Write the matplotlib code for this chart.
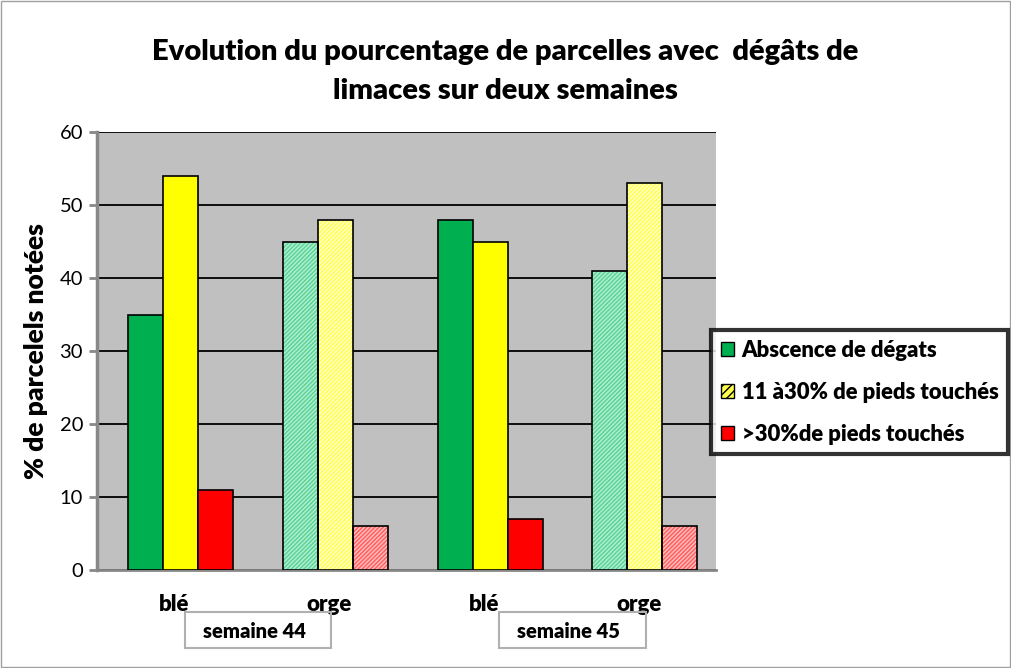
import matplotlib
matplotlib.use("Agg")
import matplotlib.pyplot as plt
from matplotlib.patches import Rectangle, Patch
import numpy as np

plt.rcParams['font.family'] = ['Lato', 'DejaVu Sans']
BW = "heavy"

categories = ["blé", "orge", "blé", "orge"]
weeks = ["semaine 44", "semaine 45"]
series_names = ["Abscence de dégats", "11 à30% de pieds touchés", ">30%de pieds touchés"]
absence = [35, 45, 48, 41]
moyen = [54, 48, 45, 53]
fort = [11, 6, 7, 6]
hatched = [False, True, False, True]

solid_colors = ["#00b050", "#ffff00", "#ff0000"]
hatch_face = ["#5fd39a", "#ffff50", "#ff6060"]
hatch_line = ["#b0f0d0", "#ffffd0", "#ffc0c0"]

fig = plt.figure(figsize=(10.11, 6.68), dpi=100)
fig.patches.append(Rectangle((0.001, 0.001), 0.998, 0.997, transform=fig.transFigure,
                             fill=False, edgecolor="#a0a0a0", linewidth=1))
ax = fig.add_axes([97/1011, 1-570/668, 619/1011, 438/668])
ax.set_facecolor("#c0c0c0")

x = np.arange(len(categories))
w = 0.226
off = 0.04
for si, vals in enumerate([absence, moyen, fort]):
    pos = x + off + (si - 1) * w
    for xi, (p, v) in enumerate(zip(pos, vals)):
        if hatched[xi]:
            ax.bar(p, v, w, color=hatch_face[si], edgecolor=hatch_line[si],
                   hatch="////////", linewidth=0, zorder=3)
            ax.bar(p, v, w, fill=False, edgecolor="black", linewidth=1.2, zorder=4)
        else:
            ax.bar(p, v, w, color=solid_colors[si], edgecolor="black", linewidth=1.2, zorder=3)

ax.set_xlim(-0.5, 3.5)
ax.set_ylim(0, 60)
ax.set_yticks(range(0, 61, 10))
ax.yaxis.grid(True, color="black", linewidth=1.3, zorder=1)
ax.set_axisbelow(True)
ax.set_xticks(x)
ax.set_xticklabels(categories, fontsize=16, fontweight=BW)
ax.tick_params(axis="x", length=0, pad=17)
ax.tick_params(axis="y", length=6, width=2, color="#888888", labelsize=14.5, pad=4, direction="out")
for s in ["top", "right"]:
    ax.spines[s].set_visible(False)
ax.spines["left"].set_color("#888888")
ax.spines["left"].set_linewidth(2.5)
ax.spines["bottom"].set_color("#888888")
ax.spines["bottom"].set_linewidth(2)
ax.set_ylabel("% de parcelels notées", fontsize=19, fontweight=BW, labelpad=8)

fig.text(505/1011, 1-52/668, "Evolution du pourcentage de parcelles avec  dégâts de",
         ha="center", va="center", fontsize=21, fontweight=BW)
fig.text(505/1011, 1-91/668, "limaces sur deux semaines",
         ha="center", va="center", fontsize=21, fontweight=BW)

# week boxes
for wk, (x0, x1) in zip(weeks, [(185, 331), (499, 646)]):
    fig.patches.append(Rectangle((x0/1011, 1-648/668), (x1-x0)/1011, 36/668,
                                 transform=fig.transFigure, fill=False,
                                 edgecolor="#b0b0b0", linewidth=1.5))
    fig.text((x0+x1)/2/1011 - 4/1011, 1-631/668, wk, ha="center", va="center",
             fontsize=14.5, fontweight=BW)

handles = [Patch(facecolor=solid_colors[0], edgecolor="black"),
           Patch(facecolor=hatch_face[1], edgecolor="black", hatch="////"),
           Patch(facecolor=solid_colors[2], edgecolor="black")]
leg = fig.legend(handles, series_names, loc="upper left",
                 bbox_to_anchor=(711/1011, 1-330/668), frameon=True, fancybox=False,
                 prop={"weight": BW, "size": 15.8}, handlelength=0.6, handleheight=0.6,
                 handletextpad=0.35, labelspacing=0.95, borderpad=0.45, borderaxespad=0)
leg.get_frame().set_edgecolor("black")
leg.get_frame().set_linewidth(3)

fig.savefig("out.png", dpi=100)
